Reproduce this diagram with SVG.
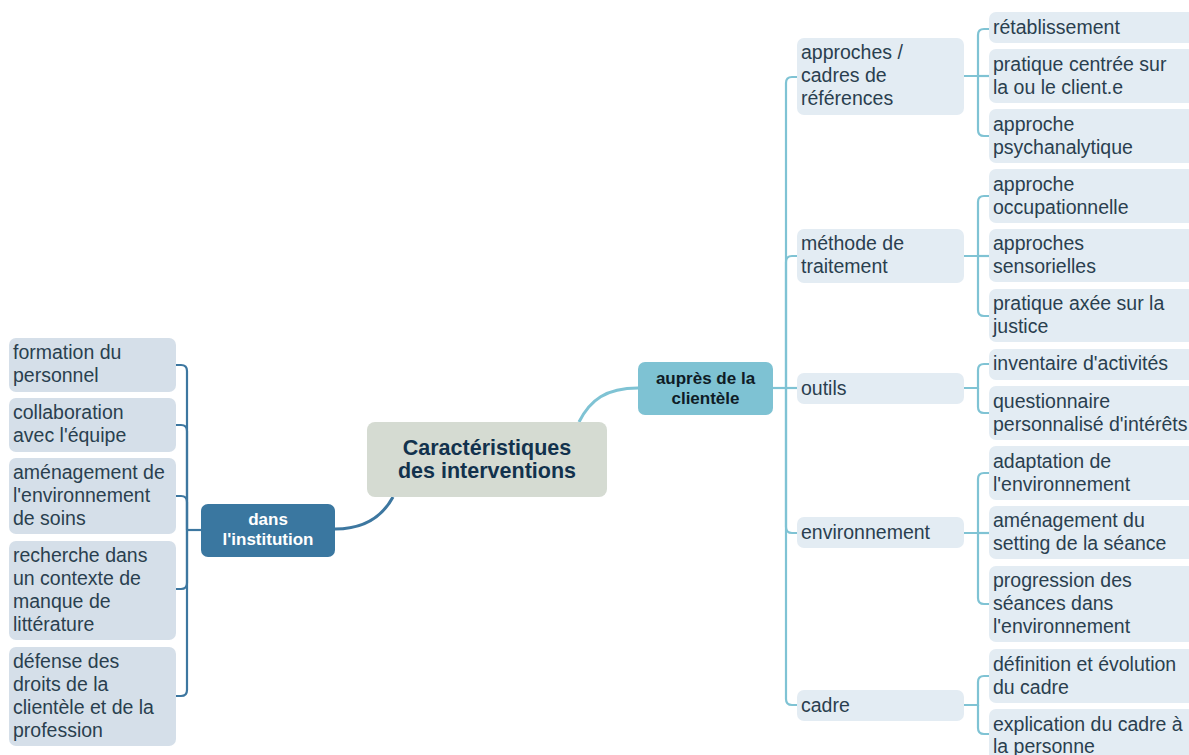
<svg xmlns="http://www.w3.org/2000/svg" width="1189" height="755" viewBox="0 0 1189 755">
<style>
.t{font-family:"Liberation Sans",Arial,sans-serif;font-size:19.5px;fill:#2a3f4f}
.lb{fill:#d5dfe9}
.rb{fill:#e3ecf3}
.cl{fill:none;stroke:#3d77a0;stroke-width:2.2}
.cr{fill:none;stroke:#7fc3d4;stroke-width:2.2}
.b{font-family:"Liberation Sans",Arial,sans-serif;font-weight:bold;text-anchor:middle}
</style>
<rect width="1189" height="755" fill="#ffffff"/>
<g id="connectors">
<path class="cr" style="stroke-width:3" d="M579,422 C590,400 606,388 638,388"/>
<path class="cl" style="stroke-width:3" d="M393,497 C381,519 362,529 335,529"/>
<path class="cl" d="M201,530 H187"/>
<path class="cl" d="M187,530 V371 Q187,365 181,365 H176"/>
<path class="cl" d="M187,530 V431 Q187,425 181,425 H176"/>
<path class="cl" d="M187,530 V502 Q187,496 181,496 H176"/>
<path class="cl" d="M187,530 V583 Q187,589 181,589 H176"/>
<path class="cl" d="M187,530 V690 Q187,696 181,696 H176"/>
<path class="cr" d="M773,388 H786"/>
<path class="cr" d="M786,388 V83 Q786,77 792,77 H797"/>
<path class="cr" d="M786,388 V262 Q786,256 792,256 H797"/>
<path class="cr" d="M786,388 H797"/>
<path class="cr" d="M786,388 V527 Q786,533 792,533 H797"/>
<path class="cr" d="M786,388 V699 Q786,705 792,705 H797"/>
<path class="cr" d="M964,76 H978 V35 Q978,29 984,29 H989"/>
<path class="cr" d="M978,76 H989"/>
<path class="cr" d="M978,76 V130 Q978,136 984,136 H989"/>
<path class="cr" d="M964,256 H978 V202 Q978,196 984,196 H989"/>
<path class="cr" d="M978,256 H989"/>
<path class="cr" d="M978,256 V310 Q978,316 984,316 H989"/>
<path class="cr" d="M964,388 H978 V370 Q978,364 984,364 H989"/>
<path class="cr" d="M978,388 V407 Q978,413 984,413 H989"/>
<path class="cr" d="M964,533 H978 V479 Q978,473 984,473 H989"/>
<path class="cr" d="M978,533 H989"/>
<path class="cr" d="M978,533 V598 Q978,604 984,604 H989"/>
<path class="cr" d="M964,705 H978 V682 Q978,676 984,676 H989"/>
<path class="cr" d="M978,705 V728 Q978,734 984,734 H989"/>
</g>
<g id="central">
<rect x="367" y="422" width="240" height="75" rx="8" fill="#d5dbd2"/>
<text class="b" x="487" y="455" font-size="21.5" fill="#12324d">Caractéristiques</text>
<text class="b" x="487" y="478" font-size="21.5" fill="#12324d">des interventions</text>
</g>
<g id="aupres">
<rect x="638" y="362" width="135" height="53" rx="7" fill="#7ec2d3"/>
<text class="b" x="705.5" y="384" font-size="17" fill="#0f1c26">auprès de la</text>
<text class="b" x="705.5" y="404" font-size="17" fill="#0f1c26">clientèle</text>
</g>
<g id="dans">
<rect x="201" y="504" width="134" height="53" rx="7" fill="#3a77a0"/>
<text class="b" x="268" y="525" font-size="17" fill="#ffffff">dans</text>
<text class="b" x="268" y="545" font-size="17" fill="#ffffff">l'institution</text>
</g>
<g id="formation">
<rect class="lb" x="9" y="338" width="167" height="54" rx="7"/>
<text class="t" x="13" y="359">formation du</text>
<text class="t" x="13" y="382">personnel</text>
</g>
<g id="collaboration">
<rect class="lb" x="9" y="398" width="167" height="54" rx="7"/>
<text class="t" x="13" y="419">collaboration</text>
<text class="t" x="13" y="442">avec l'équipe</text>
</g>
<g id="amenagement-soins">
<rect class="lb" x="9" y="458" width="167" height="76" rx="7"/>
<text class="t" x="13" y="479">aménagement de</text>
<text class="t" x="13" y="502">l'environnement</text>
<text class="t" x="13" y="525">de soins</text>
</g>
<g id="recherche">
<rect class="lb" x="9" y="541" width="167" height="99" rx="7"/>
<text class="t" x="13" y="562">recherche dans</text>
<text class="t" x="13" y="585">un contexte de</text>
<text class="t" x="13" y="608">manque de</text>
<text class="t" x="13" y="631">littérature</text>
</g>
<g id="defense">
<rect class="lb" x="9" y="647" width="167" height="99" rx="7"/>
<text class="t" x="13" y="668">défense des</text>
<text class="t" x="13" y="691">droits de la</text>
<text class="t" x="13" y="714">clientèle et de la</text>
<text class="t" x="13" y="737">profession</text>
</g>
<g id="approches">
<rect class="rb" x="797" y="38" width="167" height="77" rx="7"/>
<text class="t" x="801" y="59">approches /</text>
<text class="t" x="801" y="82">cadres de</text>
<text class="t" x="801" y="105">références</text>
</g>
<g id="methode">
<rect class="rb" x="797" y="229" width="167" height="54" rx="7"/>
<text class="t" x="801" y="250">méthode de</text>
<text class="t" x="801" y="273">traitement</text>
</g>
<g id="outils">
<rect class="rb" x="797" y="373" width="167" height="31" rx="7"/>
<text class="t" x="801" y="395">outils</text>
</g>
<g id="environnement">
<rect class="rb" x="797" y="517" width="167" height="31" rx="7"/>
<text class="t" x="801" y="539">environnement</text>
</g>
<g id="cadre">
<rect class="rb" x="797" y="690" width="167" height="31" rx="7"/>
<text class="t" x="801" y="712">cadre</text>
</g>
<g id="retablissement">
<rect class="rb" x="989" y="12" width="210" height="31" rx="7"/>
<text class="t" x="993" y="34">rétablissement</text>
</g>
<g id="pratique-centree">
<rect class="rb" x="989" y="49" width="210" height="54" rx="7"/>
<text class="t" x="993" y="71">pratique centrée sur</text>
<text class="t" x="993" y="94">la ou le client.e</text>
</g>
<g id="psychanalytique">
<rect class="rb" x="989" y="109" width="210" height="54" rx="7"/>
<text class="t" x="993" y="131">approche</text>
<text class="t" x="993" y="154">psychanalytique</text>
</g>
<g id="occupationnelle">
<rect class="rb" x="989" y="169" width="210" height="54" rx="7"/>
<text class="t" x="993" y="191">approche</text>
<text class="t" x="993" y="214">occupationnelle</text>
</g>
<g id="sensorielles">
<rect class="rb" x="989" y="229" width="210" height="53" rx="7"/>
<text class="t" x="993" y="250">approches</text>
<text class="t" x="993" y="273">sensorielles</text>
</g>
<g id="justice">
<rect class="rb" x="989" y="289" width="210" height="53" rx="7"/>
<text class="t" x="993" y="310">pratique axée sur la</text>
<text class="t" x="993" y="333">justice</text>
</g>
<g id="inventaire">
<rect class="rb" x="989" y="349" width="210" height="31" rx="7"/>
<text class="t" x="993" y="370">inventaire d'activités</text>
</g>
<g id="questionnaire">
<rect class="rb" x="989" y="386" width="210" height="54" rx="7"/>
<text class="t" x="993" y="408">questionnaire</text>
<text class="t" x="993" y="431">personnalisé d'intérêts</text>
</g>
<g id="adaptation">
<rect class="rb" x="989" y="446" width="210" height="54" rx="7"/>
<text class="t" x="993" y="468">adaptation de</text>
<text class="t" x="993" y="491">l'environnement</text>
</g>
<g id="setting">
<rect class="rb" x="989" y="506" width="210" height="53" rx="7"/>
<text class="t" x="993" y="527">aménagement du</text>
<text class="t" x="993" y="550">setting de la séance</text>
</g>
<g id="progression">
<rect class="rb" x="989" y="566" width="210" height="76" rx="7"/>
<text class="t" x="993" y="587">progression des</text>
<text class="t" x="993" y="610">séances dans</text>
<text class="t" x="993" y="633">l'environnement</text>
</g>
<g id="definition">
<rect class="rb" x="989" y="649" width="210" height="54" rx="7"/>
<text class="t" x="993" y="671">définition et évolution</text>
<text class="t" x="993" y="694">du cadre</text>
</g>
<g id="explication">
<rect class="rb" x="989" y="709" width="210" height="54" rx="7"/>
<text class="t" x="993" y="731">explication du cadre à</text>
<text class="t" x="993" y="753">la personne</text>
</g>
</svg>
